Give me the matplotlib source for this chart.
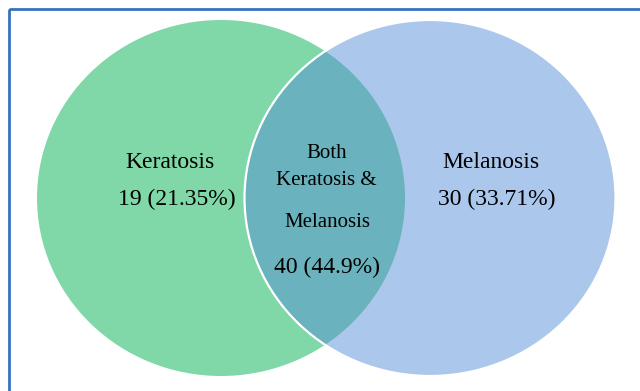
import matplotlib
matplotlib.use("Agg")
import matplotlib.pyplot as plt
from matplotlib.patches import Ellipse, Rectangle

# Venn data
set_names = ["Keratosis", "Melanosis"]
only_counts = [19, 30]
only_pcts = ["21.35%", "33.71%"]
both_count = 40
both_pct = "44.9%"

# Colours
green = "#80D8A8"
blue = "#ABC7EB"
teal = "#6AB2BD"
frame_col = "#3872BE"

plt.rcParams["font.family"] = ["Liberation Serif", "DejaVu Serif"]

fig = plt.figure(figsize=(6.4, 3.91), dpi=100)
ax = fig.add_axes([0, 0, 1, 1])
ax.set_xlim(0, 640)
ax.set_ylim(391, 0)
ax.axis("off")

# frame round the picture (runs off right and bottom)
ax.add_patch(Rectangle((9, 9), 700, 500, fill=False, edgecolor=frame_col, lw=2))

# circles (pixel coords, slightly squashed like the original)
left = Ellipse((221, 198), 368, 356, facecolor=green, edgecolor="none", zorder=1)
right = Ellipse((430, 198), 371, 356, facecolor=blue, edgecolor="none", zorder=2)
ax.add_patch(left)
ax.add_patch(right)

# overlap: left circle clipped to the right circle
overlap = Ellipse((221, 198), 368, 356, facecolor=teal, edgecolor="none", zorder=3)
ax.add_patch(overlap)
overlap.set_clip_path(right)

# white outline of the right circle
ax.add_patch(Ellipse((430, 198), 371, 356, fill=False, edgecolor="white", lw=1.6, zorder=4))

# labels
ax.text(170, 168, set_names[0], fontsize=17, ha="center", va="baseline", zorder=5)
ax.text(177, 205, f"{only_counts[0]} ({only_pcts[0]})", fontsize=17, ha="center", va="baseline", zorder=5)
ax.text(491, 168, set_names[1], fontsize=17, ha="center", va="baseline", zorder=5)
ax.text(497, 205, f"{only_counts[1]} ({only_pcts[1]})", fontsize=17, ha="center", va="baseline", zorder=5)

ax.text(327, 158, "Both", fontsize=15, ha="center", va="baseline", zorder=5)
ax.text(326, 185, f"{set_names[0]} &", fontsize=15, ha="center", va="baseline", zorder=5)
ax.text(327, 227, set_names[1], fontsize=15, ha="center", va="baseline", zorder=5)
ax.text(327, 273, f"{both_count} ({both_pct})", fontsize=17, ha="center", va="baseline", zorder=5)

fig.savefig("out.png", dpi=100)
